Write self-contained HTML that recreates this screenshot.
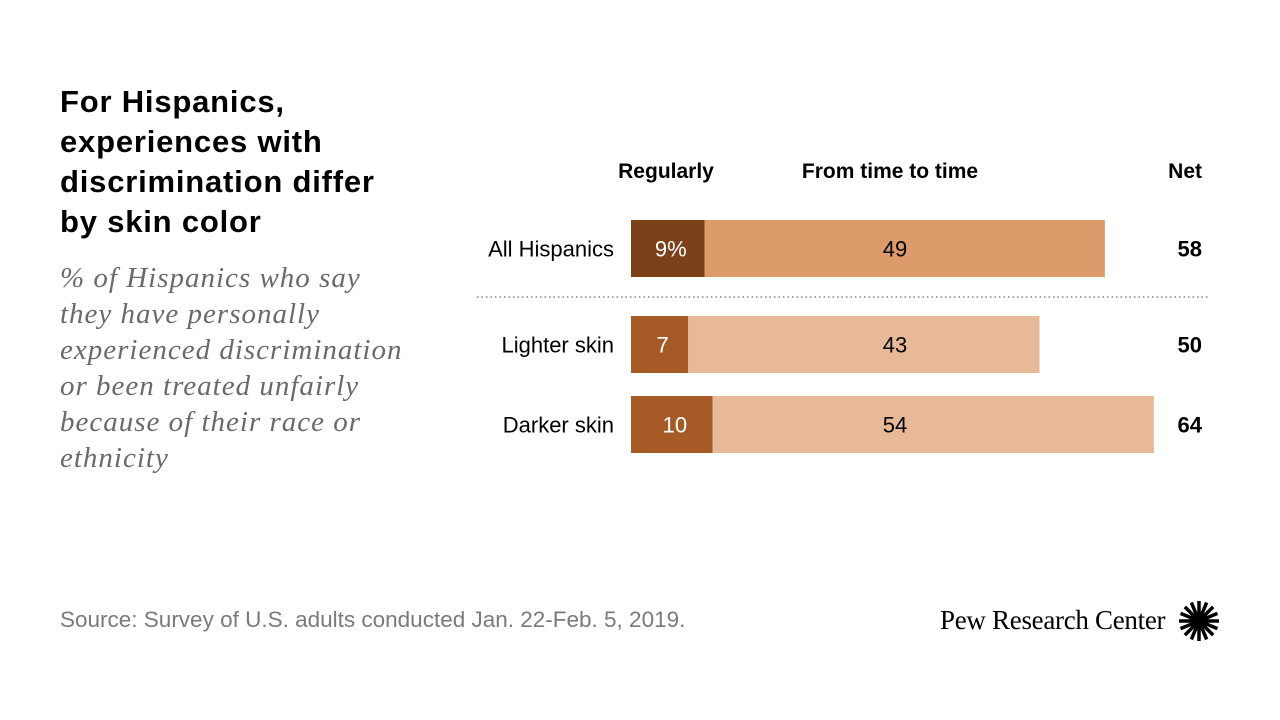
<!DOCTYPE html>
<html><head><meta charset="utf-8"><style>
body{margin:0;width:1280px;height:720px;background:#fff;position:relative;overflow:hidden;font-family:"Liberation Sans",sans-serif}
.t{position:absolute;margin:0}
</style></head><body>
<h1 class="t" style="left:60px;top:82px;font-size:31px;line-height:40px;font-weight:bold;color:#000;white-space:nowrap;letter-spacing:0.8px">For Hispanics,<br>experiences with<br>discrimination differ<br>by skin color</h1>
<p class="t" style="left:60px;top:260px;font-family:'Liberation Serif',serif;font-style:italic;font-size:29px;line-height:36px;color:#6a6a6a;white-space:nowrap;letter-spacing:1px">% of Hispanics who say<br>they have personally<br>experienced discrimination<br>or been treated unfairly<br>because of their race or<br>ethnicity</p>
<p class="t" style="left:60px;top:607px;font-size:22.5px;color:#7a7a7a">Source: Survey of U.S. adults conducted Jan. 22-Feb. 5, 2019.</p>
<div class="t" style="left:940px;top:605px;font-family:'Liberation Serif',serif;font-size:27px;color:#000;letter-spacing:-0.3px">Pew Research Center</div>
<svg class="t" style="left:1178px;top:600px" width="42" height="42" viewBox="-21 -21 42 42" id="logo"></svg>
<svg id="chart" class="t" style="left:0;top:0" width="1280" height="720"></svg>
<script>
const categories=["All Hispanics","Lighter skin","Darker skin"];
const regularly=[9,7,10];
const timeToTime=[49,43,54];
const net=[58,50,64];
const regLabels=["9%","7","10"];
const NS="http://www.w3.org/2000/svg";
const svg=document.getElementById('chart');
const x0=631,scale=8.17;
const xs=v=>x0+v*scale;
const rowY=[220,316,396],bh=57;
const cReg=["#7b4119","#a65b26","#a65b26"],cTime=["#dd9a6b","#e8b999","#e8b999"];
function mk(tag,attrs,txt){const e=document.createElementNS(NS,tag);for(const k in attrs)e.setAttribute(k,attrs[k]);if(txt!==undefined)e.textContent=txt;svg.appendChild(e);return e;}
[["Regularly",666,"middle","header-regularly"],["From time to time",890,"middle","header-time-to-time"],["Net",1202,"end","header-net"]].forEach(h=>{
 const e=mk('text',{x:h[1],y:178,'text-anchor':h[2],'font-size':21,'font-weight':'bold',fill:'#000'},h[0]);
 
 
});
const sep=mk('line',{x1:477,x2:1208,y1:297,y2:297,stroke:'#888','stroke-width':1.5,'stroke-dasharray':'1.5 3'});


categories.forEach((c,i)=>{
 const y=rowY[i];
 const lab=mk('text',{x:614,y:y+bh/2+8,'text-anchor':'end','font-size':22,fill:'#000'},c);
 
 
 const r1=mk('rect',{x:xs(0),y:y,width:xs(regularly[i])-xs(0),height:bh,fill:cReg[i]});
 
 
 const r2=mk('rect',{x:xs(regularly[i]),y:y,width:xs(regularly[i]+timeToTime[i])-xs(regularly[i]),height:bh,fill:cTime[i]});
 
 
 const t1=mk('text',{x:(xs(0)+xs(regularly[i]))/2+3,y:y+bh/2+8,'text-anchor':'middle','font-size':22,fill:'#fff'},regLabels[i]);
 
 
 const t2=mk('text',{x:895,y:y+bh/2+8,'text-anchor':'middle','font-size':22,fill:'#000'},String(timeToTime[i]));
 
 
 const t3=mk('text',{x:1202,y:y+bh/2+8,'text-anchor':'end','font-size':22,'font-weight':'bold',fill:'#000'},String(net[i]));
 
 
});
const logo=document.getElementById('logo');
for(let k=0;k<16;k++){const a=k*Math.PI/8;const l=document.createElementNS(NS,'line');
l.setAttribute('x1',Math.cos(a)*5);l.setAttribute('y1',Math.sin(a)*5);l.setAttribute('x2',Math.cos(a)*20);l.setAttribute('y2',Math.sin(a)*20);
l.setAttribute('stroke','#000');l.setAttribute('stroke-width',3.5);logo.appendChild(l);}
const cc=document.createElementNS(NS,'circle');cc.setAttribute('r',6);cc.setAttribute('fill','#000');logo.appendChild(cc);
</script>
</body></html>
